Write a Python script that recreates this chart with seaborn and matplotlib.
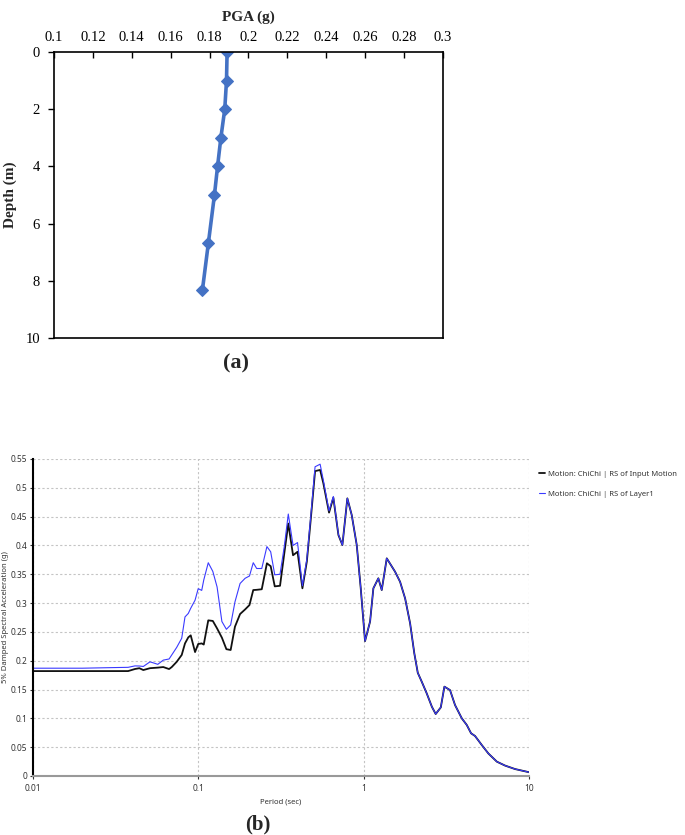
import matplotlib
matplotlib.use("Agg")
import matplotlib.pyplot as plt
import seaborn as sns
import pandas as pd

# (a) PGA profile with depth
depth_m = [0, 1, 2, 3, 4, 5, 6.67, 8.33]
pga_g = [0.189, 0.1887, 0.1878, 0.1858, 0.1841, 0.1825, 0.1794, 0.1763]

# (b) response spectra
period_s = [0.01, 0.02, 0.03, 0.0377, 0.0415, 0.0441, 0.0466, 0.0511, 0.0539,
            0.057, 0.0615, 0.0667, 0.0692, 0.0741, 0.0795, 0.0832, 0.0871,
            0.0901, 0.0957, 0.1, 0.105, 0.108, 0.115, 0.1225, 0.13, 0.139,
            0.148, 0.157, 0.1667, 0.179, 0.192, 0.204, 0.215, 0.2255, 0.242,
            0.26, 0.274, 0.29, 0.312, 0.331, 0.35, 0.374, 0.398, 0.426, 0.453,
            0.479, 0.508, 0.545, 0.57, 0.617, 0.655, 0.703, 0.743, 0.796,
            0.846, 0.907, 0.959, 1.018, 1.092, 1.143, 1.225, 1.284, 1.377,
            1.546, 1.657, 1.778, 1.905, 2.02, 2.12, 2.24, 2.4, 2.58, 2.72,
            2.92, 3.07, 3.32, 3.56, 3.91, 4.19, 4.45, 4.7, 5.16, 5.66, 6.37,
            7.14, 8.2, 10.0]

sa_input = [0.182, 0.182, 0.182, 0.182, 0.1856, 0.187, 0.1838, 0.187, 0.1875,
            0.188, 0.189, 0.1855, 0.189, 0.198, 0.21, 0.23, 0.2405,
            0.244, 0.215, 0.229, 0.23, 0.228, 0.27, 0.269, 0.256, 0.24,
            0.22, 0.2186, 0.259, 0.281, 0.289, 0.2966, 0.3226, 0.323, 0.324,
            0.369, 0.364, 0.329, 0.33, 0.386, 0.438, 0.383, 0.389, 0.3256, 0.372,
            0.447, 0.529, 0.531, 0.508, 0.457, 0.483, 0.418, 0.4007, 0.4817,
            0.4527, 0.4007, 0.3256, 0.234, 0.268, 0.3256, 0.343, 0.3226, 0.3776,
            0.3544, 0.337, 0.308, 0.265, 0.2128, 0.179, 0.1636, 0.1434, 0.12, 0.1075,
            0.119, 0.155, 0.149, 0.123, 0.1, 0.0885, 0.074, 0.0694, 0.0538, 0.039, 0.0248,
            0.018, 0.012, 0.0064]

sa_layer1 = [0.187, 0.187, 0.188, 0.1885, 0.191, 0.1908, 0.19, 0.198, 0.196,
             0.1937, 0.201, 0.203, 0.21, 0.223, 0.239, 0.276, 0.282,
             0.291, 0.305, 0.325, 0.322, 0.34, 0.37, 0.355, 0.328, 0.268,
             0.2545, 0.262, 0.302, 0.334, 0.343, 0.347, 0.37, 0.36, 0.36,
             0.398, 0.389, 0.349, 0.35, 0.398, 0.4545, 0.4, 0.405, 0.33, 0.376,
             0.452, 0.5365, 0.541, 0.513, 0.46, 0.485, 0.419, 0.4007, 0.4817,
             0.4527, 0.4007, 0.3256, 0.234, 0.268, 0.3256, 0.343, 0.3226, 0.3776,
             0.3544, 0.337, 0.308, 0.265, 0.2128, 0.179, 0.1636, 0.1434, 0.12, 0.1075,
             0.119, 0.155, 0.149, 0.123, 0.1, 0.0885, 0.074, 0.0694, 0.0538, 0.039, 0.0248,
             0.018, 0.012, 0.0064]

sns.set_style("white")

fig = plt.figure(figsize=(6.85, 8.35), dpi=100)

# ---- panel (a)
ax1 = fig.add_axes([0.0788, 0.5952, 0.5679, 0.3425])
serif = ["Liberation Serif", "DejaVu Serif"]
df_a = pd.DataFrame({"PGA": pga_g, "Depth": depth_m})
sns.lineplot(data=df_a, x="PGA", y="Depth", orient="y", sort=False,
             color="#4472C4", linewidth=2.6, marker="D", markersize=6,
             markeredgecolor="#4472C4", ax=ax1)
ax1.set_xlim(0.1, 0.3)
ax1.set_ylim(10, 0)
ax1.set_xticks([0.1 + 0.02 * i for i in range(11)])
ax1.set_xticklabels(["0.1", "0.12", "0.14", "0.16", "0.18", "0.2", "0.22",
                     "0.24", "0.26", "0.28", "0.3"])
ax1.set_yticks([0, 2, 4, 6, 8, 10])
ax1.xaxis.tick_top()
ax1.xaxis.set_label_position("top")
ax1.tick_params(axis="x", direction="in", length=4, width=1, pad=6,
                labelsize=10.5, top=True, bottom=False, colors="black")
ax1.tick_params(axis="y", direction="out", length=4, width=1, pad=6,
                labelsize=10.5, left=True, colors="black")
for lab in ax1.get_xticklabels() + ax1.get_yticklabels():
    lab.set_family(serif)
ax1.set_xlabel("PGA (g)", family=serif, fontsize=11, fontweight="bold", labelpad=7)
ax1.set_ylabel("Depth (m)", family=serif, fontsize=11, fontweight="bold", labelpad=6)
for s in ax1.spines.values():
    s.set_color("black")
    s.set_linewidth(1.2)
ax1.grid(False)
fig.text(0.3445, 0.565, "(a)", family=serif, fontsize=16, fontweight="bold",
         ha="center", va="center")

# ---- panel (b)
ax2 = fig.add_axes([0.0477, 0.0707, 0.725, 0.3796])
sans = ["Noto Sans", "DejaVu Sans"]
df_b = pd.DataFrame({"Period": period_s * 2,
                     "SA": sa_input + sa_layer1,
                     "Series": ["Motion: ChiChi | RS of Input Motion"] * len(period_s)
                     + ["Motion: ChiChi | RS of Layer1"] * len(period_s)})
sns.lineplot(data=df_b[df_b.Series.str.contains("Input")], x="Period", y="SA",
             color="#111111", linewidth=1.3, ax=ax2,
             label="Motion: ChiChi | RS of Input Motion")
sns.lineplot(data=df_b[df_b.Series.str.contains("Layer1")], x="Period", y="SA",
             color="#3a3aff", linewidth=0.8, ax=ax2,
             label="Motion: ChiChi | RS of Layer1")
ax2.set_xscale("log")
ax2.set_xlim(0.01, 10)
ax2.set_ylim(0, 0.55)
ax2.set_xticks([0.01, 0.1, 1, 10])
ax2.set_xticklabels(["0.01", "0.1", "1", "10"])
ax2.set_xticks([], minor=True)
ax2.set_yticks([0.05 * i for i in range(12)])
ax2.set_yticklabels(["0", "0.05", "0.1", "0.15", "0.2", "0.25", "0.3", "0.35",
                     "0.4", "0.45", "0.5", "0.55"])
ax2.tick_params(axis="both", direction="out", length=2, width=0.8, pad=2,
                labelsize=6, colors="#333333")
ax2.tick_params(axis="x", pad=4)
ax2.tick_params(axis="both", left=True, bottom=True)
for lab in ax2.get_xticklabels() + ax2.get_yticklabels():
    lab.set_family(sans)
ax2.grid(True, which="major", color="#c4c4c4", linestyle=(0, (2, 2)), linewidth=0.8)
ax2.spines["left"].set_color("black")
ax2.spines["left"].set_linewidth(1.5)
ax2.spines["bottom"].set_color("#999999")
ax2.spines["bottom"].set_linewidth(1.5)
ax2.spines["top"].set_visible(False)
ax2.spines["right"].set_visible(False)
ax2.set_xlabel("Period (sec)", family=sans, fontsize=5.5, color="#333333", labelpad=4)
ax2.set_ylabel("5% Damped Spectral Acceleration (g)", family=sans, fontsize=5.5,
               color="#333333", labelpad=1)
ax2.legend(loc="upper left", bbox_to_anchor=(1.005, 0.985), frameon=False,
           prop={"family": sans, "size": 5.5}, handlelength=0.8, handletextpad=0.4,
           labelspacing=1.6, labelcolor="#333333")
fig.text(0.3766, 0.013, "(b)", family=serif, fontsize=15, fontweight="bold",
         ha="center", va="center")

fig.savefig("out.png", dpi=100)
